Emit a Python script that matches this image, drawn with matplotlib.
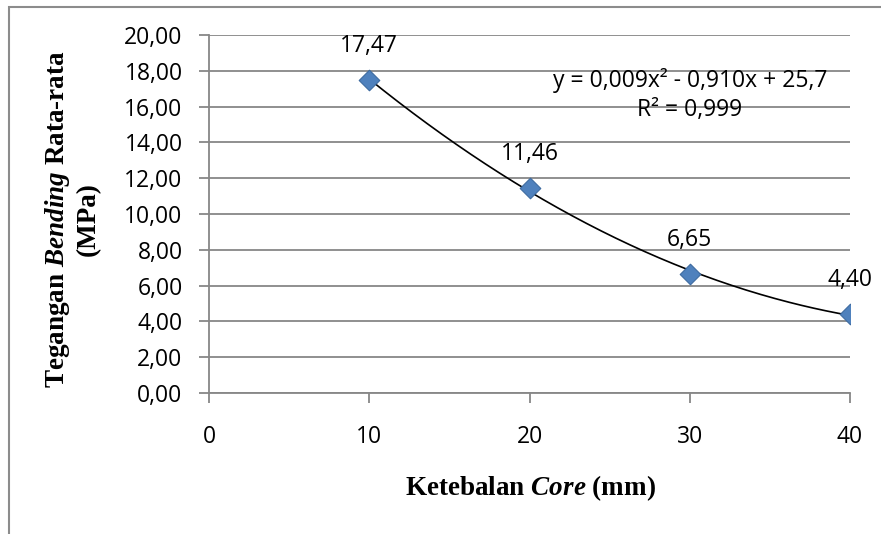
import numpy as np
import matplotlib.pyplot as plt
from matplotlib.patches import Rectangle

# data
tebal = [10, 20, 30, 40]
tegangan = [17.47, 11.46, 6.65, 4.40]
label_titik = ["17,47", "11,46", "6,65", "4,40"]
x_ticks = [0, 10, 20, 30, 40]
y_ticks = [0, 2, 4, 6, 8, 10, 12, 14, 16, 18, 20]

plt.rcParams['mathtext.fontset'] = 'custom'
plt.rcParams['mathtext.it'] = 'Liberation Serif:italic:bold'
plt.rcParams['mathtext.rm'] = 'Liberation Serif:bold'

W, H = 881, 534
fig = plt.figure(figsize=(W / 100, H / 100), dpi=100)
fig.patch.set_facecolor('white')

# outer chart border (only left and top visible)
fig.patches.append(Rectangle((9 / W, -0.1), 1.2, (H - 7) / H + 0.1, transform=fig.transFigure,
                             fill=False, edgecolor='#8c8c8c', lw=1.5))

ax = fig.add_axes([209 / W, (H - 393) / H, (850 - 209) / W, (393 - 35) / H])
grey = '#878787'
fs = 16.5

# trendline (2nd order polynomial)
k = np.polyfit(tebal, tegangan, 2)
xs = np.linspace(10, 40, 200)
ax.plot(xs, np.polyval(k, xs), color='black', lw=1.2, zorder=3)

ax.scatter(tebal, tegangan, marker='D', s=110, color='#4F81BD', edgecolor='#3d6aa0', lw=0.8, zorder=4)

for x, y, t in zip(tebal, tegangan, label_titik):
    ax.annotate(t, (x, y), xytext=(0, 16), textcoords='offset points', ha='center', va='bottom',
                fontsize=fs, family='Open Sans')

ax.text(0.75, 0.874, "y = 0,009x² - 0,910x + 25,7", transform=ax.transAxes, ha='center', va='center',
        fontsize=fs, family='Open Sans')
ax.text(0.75, 0.79, "R² = 0,999", transform=ax.transAxes, ha='center', va='center',
        fontsize=fs, family='Open Sans')

ax.set_xlim(0, 40)
ax.set_ylim(0, 20)
ax.set_xticks(x_ticks)
ax.set_yticks(y_ticks)
ax.set_xticklabels([str(v) for v in x_ticks], fontsize=fs, family='Open Sans')
ax.set_yticklabels([f"{v:.2f}".replace('.', ',') for v in y_ticks], fontsize=fs, family='Open Sans')
ax.tick_params(axis='both', direction='out', length=7, width=1.3, color=grey, pad=12)
ax.tick_params(axis='x', pad=16)
ax.grid(axis='y', color=grey, lw=1.3)
ax.set_axisbelow(True)
for s in ['top', 'right']:
    ax.spines[s].set_visible(False)
for s in ['left', 'bottom']:
    ax.spines[s].set_color(grey)
    ax.spines[s].set_linewidth(1.3)

fig.text(530 / W, 1 - 488 / H, r"Ketebalan $\mathit{Core}$ (mm)", ha='center', va='center',
         fontsize=19.5, family='Liberation Serif', fontweight='bold')
fig.text(58 / W, 1 - 219 / H, r"Tegangan $\mathit{Bending}$ Rata-rata", ha='center', va='center',
         rotation=90, fontsize=19.5, family='Liberation Serif', fontweight='bold')
fig.text(88 / W, 1 - 219 / H, "(MPa)", ha='center', va='center',
         rotation=90, fontsize=19.5, family='Liberation Serif', fontweight='bold')

fig.savefig('out.png', dpi=100)
